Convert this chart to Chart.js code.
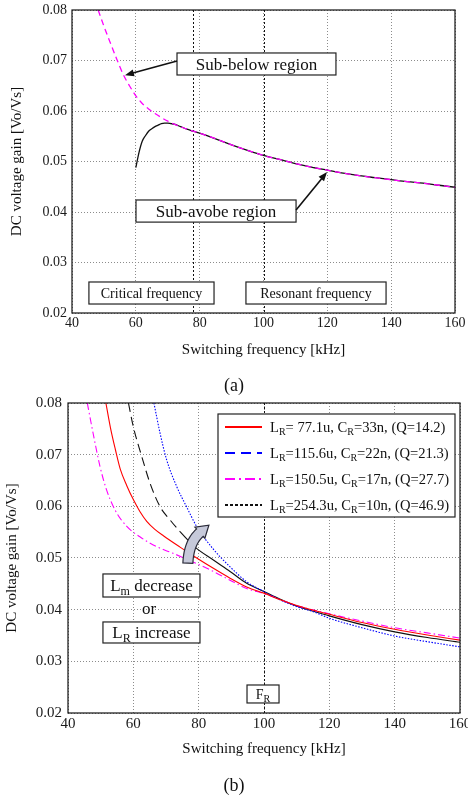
<!DOCTYPE html>
<html><head><meta charset="utf-8">
<script src="https://cdn.jsdelivr.net/npm/chart.js@4.4.0/dist/chart.umd.min.js"></script>
<style>
html,body{margin:0;padding:0;background:#fff;width:468px;height:798px;overflow:hidden;font-family:"Liberation Serif","DejaVu Serif",serif;}
#ca{position:absolute;left:0;top:0;}
#cb{position:absolute;left:0;top:390px;}
.cap{position:absolute;left:0;width:468px;text-align:center;font-size:18px;color:#111;line-height:20px;}
</style></head><body>
<canvas id="ca" width="468" height="390"></canvas>
<canvas id="cb" width="468" height="408"></canvas>
<div class="cap" style="top:375px">(a)</div>
<div class="cap" style="top:775px">(b)</div>
<script>
// ---------- shared axis ticks ----------
const xTicks = [40, 60, 80, 100, 120, 140, 160];
const yTicks = [0.02, 0.03, 0.04, 0.05, 0.06, 0.07, 0.08];

// ---------- chart (a) ----------
const freqA_below = [48.2, 50, 52, 54, 56, 58, 60, 62, 64, 66, 68, 70, 72, 74,
  76, 78, 80, 85, 90, 95, 100, 105, 110, 115, 120, 125, 130, 135, 140, 145, 150, 155, 160];
const gainA_below = [0.0800, 0.0768, 0.0735, 0.0703, 0.0673, 0.0650, 0.0630, 0.0615, 0.0604, 0.0595, 0.0587, 0.0580, 0.0574, 0.0569,
  0.0564, 0.0560, 0.0556, 0.0545, 0.0533, 0.0522, 0.0512, 0.0504, 0.0496, 0.0489, 0.0483, 0.0477, 0.0472, 0.0468, 0.0464, 0.0460, 0.0457, 0.0453, 0.0449];
const freqA_above = [60, 61, 62, 63, 64, 65, 66, 67, 68, 69, 70, 71, 72, 74,
  76, 78, 80, 85, 90, 95, 100, 105, 110, 115, 120, 125, 130, 135, 140, 145, 150, 155, 160];
const gainA_above = [0.0488, 0.0518, 0.0540, 0.0551, 0.0560, 0.0565, 0.0569, 0.0572, 0.0575, 0.0576, 0.0576, 0.0575, 0.0574, 0.0569,
  0.0564, 0.0560, 0.0556, 0.0545, 0.0533, 0.0522, 0.0512, 0.0504, 0.0496, 0.0489, 0.0483, 0.0477, 0.0472, 0.0468, 0.0464, 0.0460, 0.0457, 0.0453, 0.0449];
const markersA = [78, 100];

// ---------- chart (b) ----------
const labelsB = ['L_R= 77.1u, C_R=33n, (Q=14.2)', 'L_R=115.6u, C_R=22n, (Q=21.3)', 'L_R=150.5u, C_R=17n, (Q=27.7)', 'L_R=254.3u, C_R=10n, (Q=46.9)'];
const freqB_red = [51.6, 53, 54.5, 56, 58, 60, 62, 64.1, 66.5, 69.2, 74.3, 79.4, 84.5, 89.6, 94.7, 100, 105, 110, 120, 130, 140, 150, 160];
const gainB_red = [0.0800, 0.0752, 0.0710, 0.0672, 0.0640, 0.0613, 0.0590, 0.0571, 0.0556, 0.0543, 0.0521, 0.0500, 0.0480, 0.0461, 0.0444, 0.0432, 0.0419, 0.0408, 0.0391, 0.0375, 0.0362, 0.0351, 0.0341];
const freqB_blue = [66.3, 68.2, 70.2, 73.3, 76.3, 79.4, 84.5, 89.6, 94.7, 100, 104.9, 110, 115.1, 120.2, 130, 140, 150, 160];
const gainB_blue = [0.0800, 0.0741, 0.0690, 0.0638, 0.0599, 0.0561, 0.0517, 0.0483, 0.0454, 0.0435, 0.0419, 0.0406, 0.0396, 0.0383, 0.0365, 0.0349, 0.0338, 0.0328];
const freqB_mag = [45.9, 47.7, 49.8, 51.8, 54.4, 58, 62, 67.1, 72.2, 77.3, 84.5, 89.6, 94.7, 100, 110, 120, 130, 140, 150, 160];
const gainB_mag = [0.0800, 0.0741, 0.0677, 0.0632, 0.0593, 0.0561, 0.0541, 0.0522, 0.0509, 0.0495, 0.0474, 0.0457, 0.0441, 0.0431, 0.0408, 0.0392, 0.0378, 0.0365, 0.0355, 0.0345];
const freqB_blk = [58.5, 60, 62.6, 65.1, 68.2, 71.2, 74.3, 78.9, 84.5, 89.6, 94.7, 100, 105, 110, 120, 130, 140, 150, 160];
const gainB_blk = [0.0800, 0.0754, 0.0696, 0.0645, 0.0599, 0.0574, 0.0551, 0.0521, 0.0496, 0.0474, 0.0451, 0.0435, 0.0420, 0.0407, 0.0388, 0.0371, 0.0357, 0.0346, 0.0337];
const markersB = [100];

// ---------- annotation placement (data coordinates) ----------
const annotA = [
  {type: 'box', x1: 72.9, x2: 122.7, y1: 0.07149, y2: 0.06713, text: 'Sub-below region', size: 17},
  {type: 'arrow', x1: 72.9, y1: 0.0699, x2: 56.6, y2: 0.0671},
  {type: 'box', x1: 60.05, x2: 110.2, y1: 0.04238, y2: 0.0380, text: 'Sub-avobe region', size: 17},
  {type: 'arrow', x1: 110.2, y1: 0.0404, x2: 119.9, y2: 0.0479},
  {type: 'box', x1: 45.3, x2: 84.5, y1: 0.02614, y2: 0.02178, text: 'Critical frequency', size: 14},
  {type: 'box', x1: 94.5, x2: 138.4, y1: 0.02614, y2: 0.02178, text: 'Resonant frequency', size: 14}
];
const annotB = [
  {type: 'box', x1: 50.7, x2: 80.4, y1: 0.04691, y2: 0.04245, text: 'L_m decrease', size: 17},
  {type: 'text', x: 64.8, y: 0.0403, text: 'or', size: 17},
  {type: 'box', x1: 50.7, x2: 80.4, y1: 0.03762, y2: 0.03355, text: 'L_R increase', size: 17},
  {type: 'box', x1: 94.8, x2: 104.6, y1: 0.02542, y2: 0.02194, text: 'F_R', size: 14},
  {type: 'curved', x: 76.7, y: 0.0490}
];

const FAM = '"Liberation Serif", "DejaVu Serif", serif';

function pts(xs, ys) { return xs.map((x, i) => ({x: x, y: ys[i]})); }

function richText(ctx, str, x, baseline, size, align) {
  const parts = [];
  let buf = '', i = 0;
  while (i < str.length) {
    if (str[i] === '_' && i + 1 < str.length) {
      if (buf) parts.push({t: buf, s: false});
      buf = '';
      parts.push({t: str[i + 1], s: true});
      i += 2;
    } else { buf += str[i]; i++; }
  }
  if (buf) parts.push({t: buf, s: false});
  const sub = Math.round(size * 0.7);
  let w = 0;
  parts.forEach(p => { ctx.font = (p.s ? sub : size) + 'px ' + FAM; p.w = ctx.measureText(p.t).width; w += p.w; });
  let cx = align === 'center' ? x - w / 2 : x;
  ctx.textAlign = 'left';
  ctx.textBaseline = 'alphabetic';
  parts.forEach(p => {
    ctx.font = (p.s ? sub : size) + 'px ' + FAM;
    ctx.fillText(p.t, cx, baseline + (p.s ? size * 0.22 : 0));
    cx += p.w;
  });
  return w;
}

function drawArrow(ctx, x1, y1, x2, y2) {
  const ang = Math.atan2(y2 - y1, x2 - x1);
  const hl = 9, hw = 3.5;
  ctx.save();
  ctx.strokeStyle = '#111'; ctx.fillStyle = '#111'; ctx.lineWidth = 1.6;
  ctx.beginPath();
  ctx.moveTo(x1, y1);
  ctx.lineTo(x2 - Math.cos(ang) * hl * 0.8, y2 - Math.sin(ang) * hl * 0.8);
  ctx.stroke();
  ctx.beginPath();
  ctx.moveTo(x2, y2);
  ctx.lineTo(x2 - Math.cos(ang) * hl - Math.sin(ang) * hw, y2 - Math.sin(ang) * hl + Math.cos(ang) * hw);
  ctx.lineTo(x2 - Math.cos(ang) * hl + Math.sin(ang) * hw, y2 - Math.sin(ang) * hl - Math.cos(ang) * hw);
  ctx.closePath();
  ctx.fill();
  ctx.restore();
}

function drawCurved(ctx, tx, ty) {
  // thick curved block arrow anchored at its tail
  const T = [tx, ty], C = [tx + 0.8, ty - 20.5], E = [tx + 12, ty - 30.5], tip = [tx + 21, ty - 38];
  const bw = 5, hw = 7.5, N = 16;
  const L = [], R = [];
  for (let i = 0; i <= N; i++) {
    const t = i / N;
    const px = (1 - t) * (1 - t) * T[0] + 2 * (1 - t) * t * C[0] + t * t * E[0];
    const py = (1 - t) * (1 - t) * T[1] + 2 * (1 - t) * t * C[1] + t * t * E[1];
    let dx = 2 * (1 - t) * (C[0] - T[0]) + 2 * t * (E[0] - C[0]);
    let dy = 2 * (1 - t) * (C[1] - T[1]) + 2 * t * (E[1] - C[1]);
    const d = Math.hypot(dx, dy); dx /= d; dy /= d;
    L.push([px + dy * bw, py - dx * bw]);
    R.push([px - dy * bw, py + dx * bw]);
  }
  let dx = E[0] - C[0], dy = E[1] - C[1];
  const d = Math.hypot(dx, dy); dx /= d; dy /= d;
  ctx.save();
  ctx.beginPath();
  ctx.moveTo(L[0][0], L[0][1]);
  L.forEach(p => ctx.lineTo(p[0], p[1]));
  ctx.lineTo(E[0] + dy * hw, E[1] - dx * hw);
  ctx.lineTo(tip[0], tip[1]);
  ctx.lineTo(E[0] - dy * hw, E[1] + dx * hw);
  for (let i = R.length - 1; i >= 0; i--) ctx.lineTo(R[i][0], R[i][1]);
  ctx.closePath();
  ctx.fillStyle = '#c6c9da';
  ctx.fill();
  ctx.strokeStyle = '#2a2a38';
  ctx.lineWidth = 1.2;
  ctx.stroke();
  ctx.restore();
}

function annotPlugin(markers, annots, legend) {
  return {
    id: 'decor',
    beforeDatasetsDraw(chart) {
      const {ctx, chartArea: a, scales: {x}} = chart;
      ctx.save();
      ctx.strokeStyle = '#111'; ctx.lineWidth = 1; ctx.setLineDash([2, 2]);
      markers.forEach(m => {
        const px = Math.round(x.getPixelForValue(m)) + 0.5;
        ctx.beginPath(); ctx.moveTo(px, a.top); ctx.lineTo(px, a.bottom); ctx.stroke();
      });
      ctx.restore();
    },
    afterDatasetsDraw(chart) {
      const {ctx, chartArea: a, scales: {x, y}} = chart;
      ctx.save();
      ctx.strokeStyle = '#111'; ctx.lineWidth = 1.2; ctx.setLineDash([]);
      ctx.strokeRect(a.left, a.top, a.right - a.left, a.bottom - a.top);
      ctx.restore();
      annots.forEach(an => {
        ctx.save();
        ctx.fillStyle = '#111';
        if (an.type === 'box') {
          const l = x.getPixelForValue(an.x1), r = x.getPixelForValue(an.x2);
          const t = y.getPixelForValue(an.y1), b = y.getPixelForValue(an.y2);
          ctx.fillStyle = '#fff';
          ctx.fillRect(l, t, r - l, b - t);
          ctx.strokeStyle = '#222'; ctx.lineWidth = 1.2;
          ctx.strokeRect(l, t, r - l, b - t);
          ctx.fillStyle = '#111';
          richText(ctx, an.text, (l + r) / 2, (t + b) / 2 + an.size * 0.33, an.size, 'center');
        } else if (an.type === 'text') {
          richText(ctx, an.text, x.getPixelForValue(an.x), y.getPixelForValue(an.y) + an.size * 0.33, an.size, 'center');
        } else if (an.type === 'arrow') {
          drawArrow(ctx, x.getPixelForValue(an.x1), y.getPixelForValue(an.y1), x.getPixelForValue(an.x2), y.getPixelForValue(an.y2));
        } else if (an.type === 'curved') {
          drawCurved(ctx, x.getPixelForValue(an.x), y.getPixelForValue(an.y));
        }
        ctx.restore();
      });
      if (legend) {
        const bl = a.right - 242, bt = a.top + 11, bw = 237, bh = 103;
        ctx.save();
        ctx.fillStyle = '#fff'; ctx.fillRect(bl, bt, bw, bh);
        ctx.strokeStyle = '#222'; ctx.lineWidth = 1.2; ctx.strokeRect(bl, bt, bw, bh);
        chart.data.datasets.forEach((ds, i) => {
          const st = legend[i];
          const cy = bt + 13 + i * 26;
          ctx.strokeStyle = ds.borderColor; ctx.lineWidth = 2;
          ctx.setLineDash(st);
          ctx.beginPath(); ctx.moveTo(bl + 7, cy); ctx.lineTo(bl + 44, cy); ctx.stroke();
          ctx.setLineDash([]);
          ctx.fillStyle = '#111';
          richText(ctx, ds.label, bl + 52, cy + 4.8, 14.6, 'left');
        });
        ctx.restore();
      }
    }
  };
}

function makeOptions(c) {
  return {
    responsive: false,
    animation: false,
    layout: {padding: {left: 0, top: c.padTop, right: c.padRight, bottom: c.padBottom}},
    plugins: {legend: {display: false}, tooltip: {enabled: false}},
    elements: {point: {radius: 0}, line: {borderWidth: 1.2}},
    scales: {
      x: {
        type: 'linear', min: 40, max: 160,
        afterBuildTicks: s => { s.ticks = xTicks.map(v => ({value: v})); },
        ticks: {padding: c.xTickPad, font: {family: FAM, size: c.tickSize}, color: '#1a1a1a', maxRotation: 0, autoSkip: false},
        grid: {color: '#8c8c8c', lineWidth: 1, drawTicks: false},
        border: {display: false, dash: [1, 2]},
        title: {display: true, text: 'Switching frequency [kHz]', font: {family: FAM, size: 15}, color: '#111', padding: 0},
        afterFit: s => { s.height = c.xH; s.paddingLeft = 0; s.paddingRight = 0; }
      },
      y: {
        type: 'linear', min: 0.02, max: 0.08,
        afterBuildTicks: s => { s.ticks = yTicks.map(v => ({value: v})); },
        ticks: {padding: c.yTickPad, font: {family: FAM, size: c.tickSize}, color: '#1a1a1a', callback: v => Number(v).toFixed(2)},
        grid: {color: '#8c8c8c', lineWidth: 1, drawTicks: false},
        border: {display: false, dash: [1, 2]},
        title: {display: true, text: 'DC voltage gain [Vo/Vs]', font: {family: FAM, size: 15}, color: '#111', padding: {top: c.yTitlePad, bottom: 0}},
        afterFit: s => { s.width = c.yW; s.paddingTop = 0; s.paddingBottom = 0; }
      }
    }
  };
}

new Chart(document.getElementById('ca'), {
  type: 'line',
  data: {
    datasets: [
      {label: 'Sub-below', data: pts(freqA_below, gainA_below), borderColor: '#ff00ff', borderDash: [6, 4], borderWidth: 1.3, cubicInterpolationMode: 'monotone'},
      {label: 'Sub-above', data: pts(freqA_above, gainA_above), borderColor: '#111', borderWidth: 1.3, cubicInterpolationMode: 'monotone'}
    ]
  },
  options: makeOptions({padTop: 10, padRight: 13, padBottom: 31, xH: 46, yW: 72, xTickPad: 1.6, yTickPad: 5, tickSize: 14, yTitlePad: 8}),
  plugins: [annotPlugin(markersA, annotA, null)]
});

new Chart(document.getElementById('cb'), {
  type: 'line',
  data: {
    datasets: [
      {label: labelsB[0], data: pts(freqB_red, gainB_red), borderColor: '#ff0000', borderWidth: 1.1, cubicInterpolationMode: 'monotone'},
      {label: labelsB[1], data: pts(freqB_blue, gainB_blue), borderColor: '#0000ff', borderWidth: 1.1, borderDash: [1.5, 1.5], cubicInterpolationMode: 'monotone'},
      {label: labelsB[2], data: pts(freqB_mag, gainB_mag), borderColor: '#ff00ff', borderWidth: 1.1, borderDash: [7, 3, 1.5, 3], cubicInterpolationMode: 'monotone'},
      {label: labelsB[3], data: pts(freqB_blk, gainB_blk), borderColor: '#111', borderWidth: 1.1, cubicInterpolationMode: 'monotone',
        segment: {borderDash: ctx => ctx.p1.parsed.x <= 76 ? [9, 5] : undefined}}
    ]
  },
  options: makeOptions({padTop: 13, padRight: 8, padBottom: 40, xH: 45, yW: 68, xTickPad: 2, yTickPad: 6, tickSize: 15, yTitlePad: 3.5}),
  plugins: [annotPlugin(markersB, annotB, [[], [10, 6], [10, 4, 2, 4], [3, 2]])]
});
</script>
</body></html>
